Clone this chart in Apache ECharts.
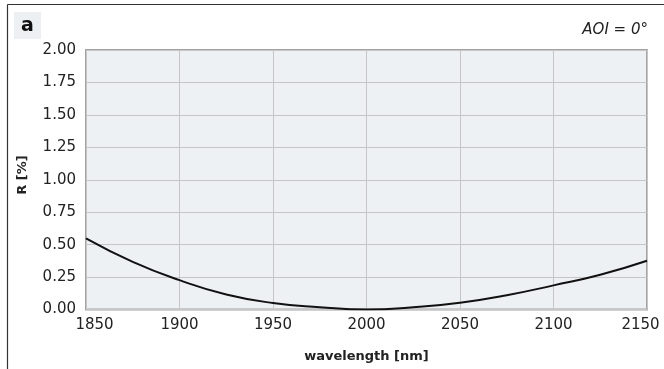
<!DOCTYPE html>
<html>
<head>
<meta charset="utf-8">
<script src="https://cdn.jsdelivr.net/npm/echarts@6/dist/echarts.min.js"></script>
<style>
html,body{margin:0;padding:0;background:#fff;}
#chart{width:664px;height:369px;}
</style>
</head>
<body>
<div id="chart"></div>
<script>
var wavelengths = [1850, 1875, 1900, 1925, 1950, 1975, 2000, 2025, 2050, 2075, 2100, 2125, 2150];
var reflectance = [0.548, 0.367, 0.226, 0.116, 0.050, 0.018, 0.000, 0.017, 0.052, 0.110, 0.186, 0.268, 0.376];
var xTicks = [1850, 1900, 1950, 2000, 2050, 2100, 2150];
var yTicks = ['0.00', '0.25', '0.50', '0.75', '1.00', '1.25', '1.50', '1.75', '2.00'];

var FONT = '"DejaVu Sans", "Noto Sans", sans-serif';
var chart = echarts.init(document.getElementById('chart'));
var pts = wavelengths.map(function (w, i) { return [w, reflectance[i]]; });

chart.setOption({
  animation: false,
  grid: {
    left: 86, right: 17, top: 50, bottom: 59.5,
    show: true, backgroundColor: '#edf1f4', borderColor: '#a3a3a3', borderWidth: 2
  },
  xAxis: {
    type: 'value', min: 1850, max: 2150, interval: 50,
    name: 'wavelength [nm]', nameLocation: 'middle', nameGap: 41,
    nameTextStyle: { fontFamily: FONT, fontWeight: 'bold', fontSize: 13, color: '#222' },
    axisLine: { show: false }, axisTick: { show: false },
    splitLine: { show: true, lineStyle: { color: '#c6c6c6', width: 1 } },
    axisLabel: {
      margin: 8, fontFamily: FONT, fontSize: 15, color: '#222',
      formatter: function (v) {
        if (v === xTicks[0]) return '{first|' + v + '}';
        if (v === xTicks[xTicks.length - 1]) return '{last|' + v + '}';
        return String(v);
      },
      rich: {
        first: { fontFamily: FONT, fontSize: 15, color: '#222', padding: [0, 0, 0, 17] },
        last: { fontFamily: FONT, fontSize: 15, color: '#222', padding: [0, 13, 0, 0] }
      }
    }
  },
  yAxis: {
    type: 'value', min: 0, max: 2, interval: 0.25,
    axisLine: { show: false }, axisTick: { show: false },
    splitLine: { show: true, lineStyle: { color: '#c6c6c6', width: 1 } },
    axisLabel: {
      margin: 10, fontFamily: FONT, fontSize: 15, color: '#222',
      formatter: function (v) { return yTicks[Math.round(v / 0.25)]; }
    }
  },
  series: [{
    type: 'line', data: pts, smooth: true, symbol: 'none',
    lineStyle: { color: '#111', width: 2 }
  }],
  graphic: [
    { type: 'line', shape: { x1: 7.5, y1: 4.5, x2: 7.5, y2: 369 }, style: { stroke: '#333', lineWidth: 1.2 } },
    { type: 'line', shape: { x1: 7.5, y1: 4.5, x2: 664, y2: 4.5 }, style: { stroke: '#333', lineWidth: 1.2 } },
    { type: 'rect', shape: { x: 14, y: 12, width: 27, height: 27 }, style: { fill: '#edf0f2' } },
    { type: 'text', x: 27.5, y: 26, style: { text: 'a', fontFamily: FONT, fontWeight: 'bold', fontSize: 19, fill: '#111', align: 'center', verticalAlign: 'middle' } },
    { type: 'text', x: 648, y: 30, style: { text: 'AOI = 0°', fontFamily: FONT, fontStyle: 'italic', fontSize: 15, fill: '#222', align: 'right', verticalAlign: 'middle' } },
    { type: 'text', x: 23, y: 175, rotation: Math.PI / 2, style: { text: 'R [%]', fontFamily: FONT, fontWeight: 'bold', fontSize: 13, fill: '#222', align: 'center', verticalAlign: 'middle' } }
  ]
});
</script>
</body>
</html>
